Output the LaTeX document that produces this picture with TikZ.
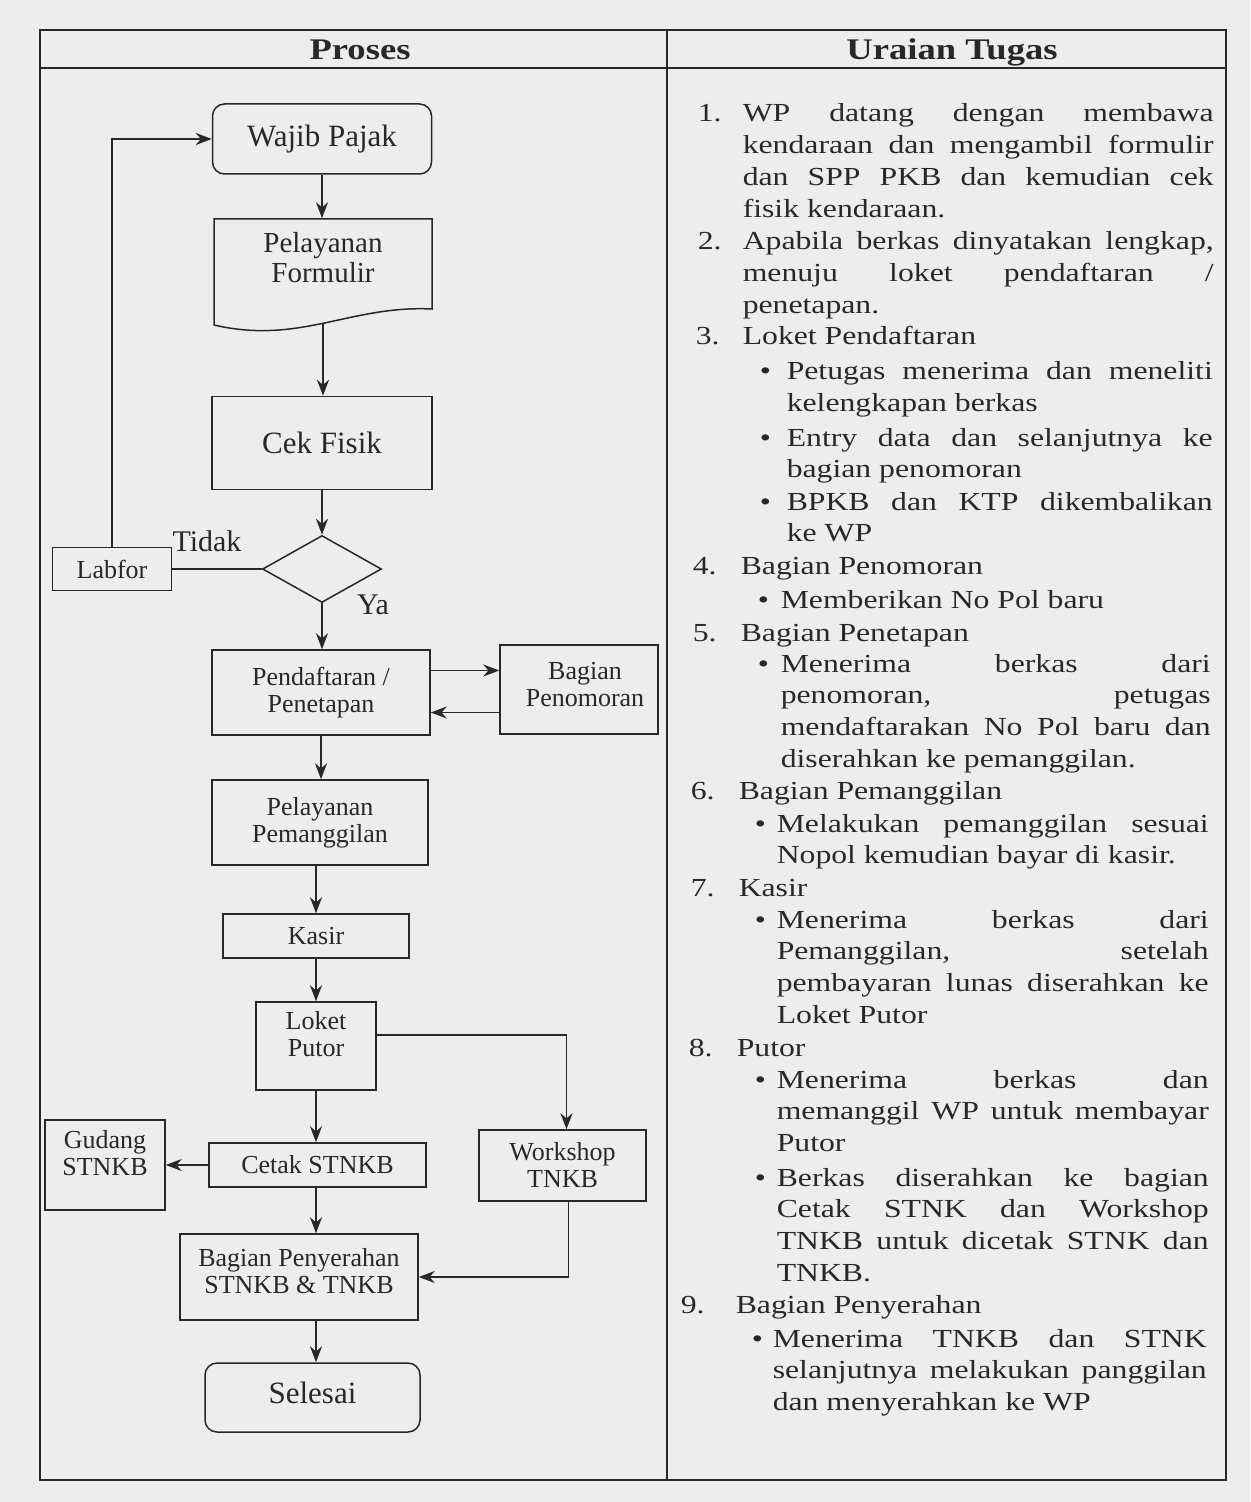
\documentclass[tikz,border=0pt]{standalone}
\usepackage{fontspec}
\setmainfont{Liberation Serif}
\newfontfamily\widefont[FakeStretch=1.22]{Liberation Serif}
\usetikzlibrary{shapes.geometric,arrows.meta}
\definecolor{paper}{RGB}{237,237,237}
\definecolor{ink}{RGB}{40,40,40}
\hbadness=10000
\hfuzz=6pt

\begin{document}
\begin{tikzpicture}[x=0.5pt,y=-0.5pt,line width=0.75pt,color=ink,
    >={Stealth[length=8pt,width=6pt]}]
    \tikzset{
        box/.style={draw,rectangle,align=center,inner sep=1pt,
            font=\fontsize{13}{13.5}\selectfont},
        termbox/.style={box,rounded corners=6pt,font=\fontsize{15.5}{18}\selectfont},
        arr/.style={->,line width=0.95pt},
        uraian/.style={anchor=base west,align=justify,inner sep=0pt,
            font=\widefont\fontsize{13}{15.9}\selectfont},
        nomor/.style={anchor=base west,inner sep=0pt,
            font=\widefont\fontsize{13}{15.9}\selectfont},
        judul/.style={anchor=base,font=\widefont\bfseries\fontsize{15}{18}\selectfont}
    }

    \useasboundingbox (0,0) rectangle (1250,1502);
    \fill[paper] (0,0) rectangle (1250,1502);

    % tabel
    \draw (40,30) rectangle (1226,1480);
    \draw (40,68) -- (1226,68);
    \draw (667,30) -- (667,1480);
    \node[judul] (hproses) at (360,60) {Proses};
    \node[judul] (huraian) at (952,60) {Uraian Tugas};

    % kolom proses
    \node[termbox,minimum width=109.5pt,minimum height=35pt] (wajib) at (322,139) {Wajib Pajak};
    \draw (214,219) -- (432,219) -- (432,309)
        .. controls (350,305) and (300,345) .. (214,325) -- cycle;
    \node[align=center,minimum width=109pt,minimum height=39pt,
        font=\fontsize{14.5}{15}\selectfont] (form) at (323,258) {Pelayanan\\Formulir};
    \coordinate (formbot) at (323,323);
    \node[box,minimum width=110pt,minimum height=46.5pt,
        font=\fontsize{15.5}{18}\selectfont] (cek) at (322,443) {Cek Fisik};
    \node[draw,diamond,minimum width=59.5pt,minimum height=33.5pt,inner sep=0pt]
        (cabang) at (322,569) {};
    \node[box,minimum width=59.5pt,minimum height=21.5pt] (labfor) at (112,569) {Labfor};
    \node[font=\fontsize{15}{18}\selectfont] (tidak) at (207,541) {Tidak};
    \node[font=\fontsize{15}{18}\selectfont] (ya) at (373,605) {Ya};
    \node[box,minimum width=109pt,minimum height=42.5pt] (daftar) at (321,692.5)
        {Pendaftaran /\\Penetapan};
    \node[box,minimum width=79pt,minimum height=44.5pt,text depth=5pt] (nomor) at (579,689.5)
        {\hspace*{6pt}Bagian\\\hspace*{6pt}Penomoran};
    \node[box,minimum width=108pt,minimum height=42.5pt] (panggil) at (320,822.5)
        {Pelayanan\\Pemanggilan};
    \node[box,minimum width=93pt,minimum height=22pt] (kasir) at (316,936) {Kasir};
    \node[box,minimum width=60pt,minimum height=44pt,text depth=12pt] (loket) at (316,1046)
        {Loket\\Putor};
    \node[box,minimum width=83.5pt,minimum height=35.5pt] (workshop) at (562.5,1165.5)
        {Workshop\\TNKB};
    \node[box,minimum width=108.5pt,minimum height=22pt] (cetak) at (317.5,1165) {Cetak STNKB};
    \node[box,minimum width=60pt,minimum height=45pt,text depth=12pt] (gudang) at (105,1165)
        {Gudang\\STNKB};
    \node[box,minimum width=119pt,minimum height=43pt,text depth=6pt] (serah) at (299,1277)
        {Bagian Penyerahan\\STNKB \& TNKB};
    \node[termbox,minimum width=107.5pt,minimum height=34.5pt,text depth=5pt] (selesai)
        at (312.5,1397.5) {Selesai};

    \draw[arr] (wajib.south) -- (wajib.south |- form.north);
    \draw[arr] (formbot) -- (formbot |- cek.north);
    \draw[arr] (cek.south) -- (cabang.north);
    \draw (cabang.west) -- (labfor.east);
    \draw[arr] (labfor.north) |- (wajib.west);
    \draw[arr] (cabang.south) -- (cabang.south |- daftar.north);
    \draw[arr] ([yshift=11pt]daftar.east) -- ([yshift=11pt]daftar.east -| nomor.west);
    \draw[arr] ([yshift=-10pt]daftar.east -| nomor.west) -- ([yshift=-10pt]daftar.east);
    \draw[arr] (daftar.south) -- (daftar.south |- panggil.north);
    \draw[arr] (panggil.south -| kasir) -- (kasir.north);
    \draw[arr] (kasir.south) -- (loket.north);
    \draw[arr] ([yshift=5.5pt]loket.east) -| ([xshift=2pt]workshop.north);
    \draw[arr] (loket.south) -- (loket.south |- cetak.north);
    \draw[arr] (cetak.west) -- (gudang.east);
    \draw[arr] (cetak.south -| loket) -- (loket |- serah.north);
    \draw[arr] ([xshift=3pt]workshop.south) |- (serah.east);
    \draw[arr] (loket |- serah.south) -- (loket |- selesai.north);

    % kolom uraian tugas
    \foreach \nx/\ny/\num in {697/122/1,697/250/2,695/345/3,692/574/4,692/641/5,
        690/799/6,690/896/7,688/1056/8,680/1313/9}
        \node[nomor] (no\num) at (\nx,\ny) {\num.};
    \foreach \bx/\by [count=\i] in {759/380,759/446,759/510,757/608,757/672,
        754/832,754/928,754/1088,754/1186,751/1347}
        \node[nomor] (dot\i) at (\bx,\by) {\textbullet};

    \node[uraian,text width=235.5pt] (u1) at (742,122)
        {WP datang dengan membawa\linebreak kendaraan dan mengambil formulir\linebreak
         dan SPP PKB dan kemudian cek\linebreak fisik kendaraan.};
    \node[uraian,text width=235.5pt] (u2) at (742,250)
        {Apabila berkas dinyatakan lengkap,\linebreak menuju loket pendaftaran /\linebreak
         penetapan.};
    \node[uraian,text width=235.5pt] (u3) at (742,345) {Loket Pendaftaran};
    \node[uraian,text width=213pt] (u3a) at (786,380)
        {Petugas menerima dan meneliti\linebreak kelengkapan berkas};
    \node[uraian,text width=213pt] (u3b) at (786,446)
        {Entry data dan selanjutnya ke\linebreak bagian penomoran};
    \node[uraian,text width=213pt] (u3c) at (786,510)
        {BPKB dan KTP dikembalikan\linebreak ke WP};
    \node[uraian,text width=236pt] (u4) at (740,574) {Bagian Penomoran};
    \node[uraian,text width=215pt] (u4a) at (780,608) {Memberikan No Pol baru};
    \node[uraian,text width=236pt] (u5) at (740,641) {Bagian Penetapan};
    \node[uraian,text width=215pt] (u5a) at (780,672)
        {Menerima berkas dari\linebreak penomoran, petugas\linebreak
         mendaftarakan No Pol baru dan\linebreak diserahkan ke pemanggilan.};
    \node[uraian,text width=236pt] (u6) at (738,799) {Bagian Pemanggilan};
    \node[uraian,text width=216pt] (u6a) at (776,832)
        {Melakukan pemanggilan sesuai\linebreak Nopol kemudian bayar di kasir.};
    \node[uraian,text width=236pt] (u7) at (738,896) {Kasir};
    \node[uraian,text width=216pt] (u7a) at (776,928)
        {Menerima berkas dari\linebreak Pemanggilan, setelah\linebreak
         pembayaran lunas diserahkan ke\linebreak Loket Putor};
    \node[uraian,text width=236pt] (u8) at (736,1056) {Putor};
    \node[uraian,text width=216pt] (u8a) at (776,1088)
        {Menerima berkas dan\linebreak memanggil WP untuk membayar\linebreak Putor};
    \node[uraian,text width=216pt] (u8b) at (776,1186)
        {Berkas diserahkan ke bagian\linebreak Cetak STNK dan Workshop\linebreak
         TNKB untuk dicetak STNK dan\linebreak TNKB.};
    \node[uraian,text width=236pt] (u9) at (735,1313) {Bagian Penyerahan};
    \node[uraian,text width=217pt] (u9a) at (772,1347)
        {Menerima TNKB dan STNK\linebreak selanjutnya melakukan panggilan\linebreak
         dan menyerahkan ke WP};
\end{tikzpicture}
\end{document}
